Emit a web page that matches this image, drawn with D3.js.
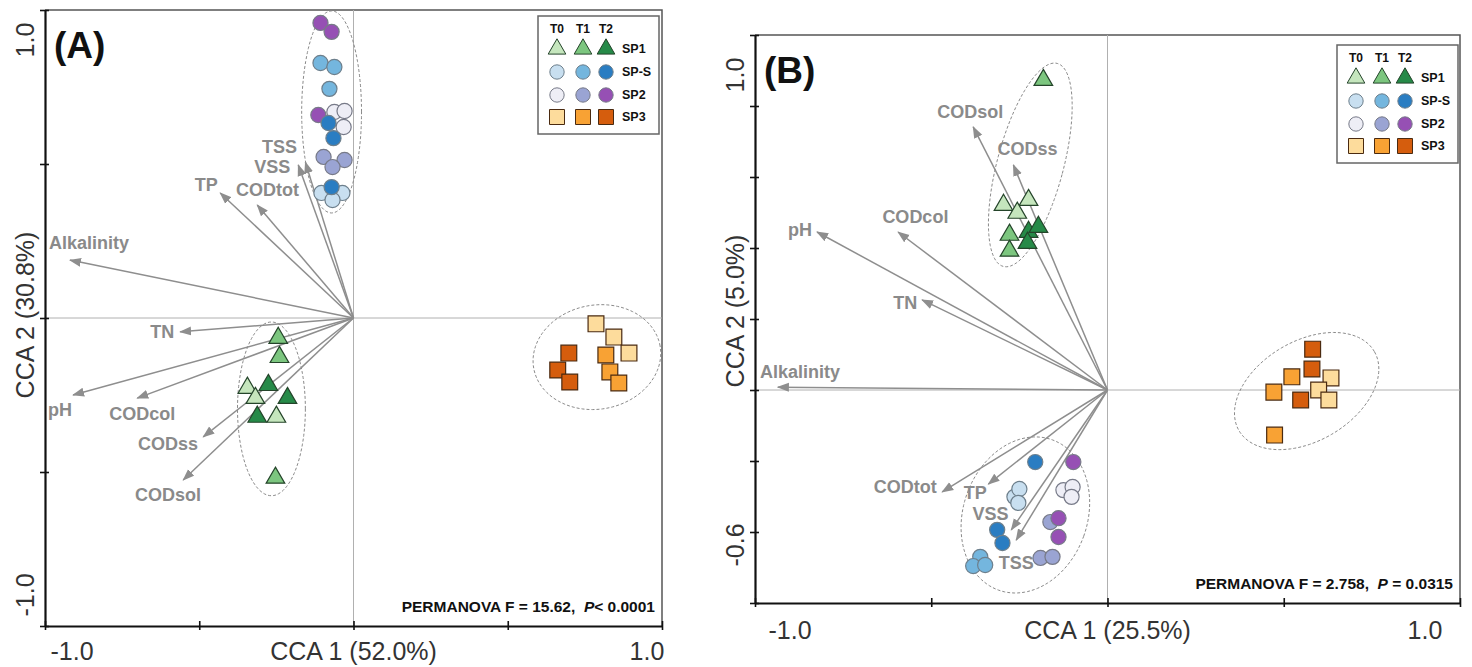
<!DOCTYPE html>
<html>
<head>
<meta charset="utf-8">
<script src="https://cdn.jsdelivr.net/npm/d3@7"></script>
<style>
  body { margin: 0; background: #fff; }
  svg { display: block; font-family: Arial, "Liberation Sans", sans-serif; }
</style>
</head>
<body>
<div id="chart"></div>
<script>
// ---- data ----
const timePoints = ['T0', 'T1', 'T2'];
const groupNames = ['SP1', 'SP-S', 'SP2', 'SP3'];

// Panel A site scores: [time, CCA1, CCA2]
const sp1A = [
  ['T0', -0.344, -0.227], ['T0', -0.318, -0.260], ['T0', -0.250, -0.321],
  ['T1', -0.244, -0.065], ['T1', -0.240, -0.127], ['T1', -0.253, -0.519],
  ['T2', -0.276, -0.218], ['T2', -0.214, -0.260], ['T2', -0.312, -0.321]
];
const spsA = [
  ['T0', -0.104, 0.406], ['T0', -0.036, 0.406], ['T0', -0.068, 0.383],
  ['T1', -0.107, 0.828], ['T1', -0.062, 0.815], ['T1', -0.078, 0.744],
  ['T2', -0.081, 0.633], ['T2', -0.065, 0.584], ['T2', -0.071, 0.425]
];
const sp2A = [
  ['T0', -0.062, 0.669], ['T0', -0.029, 0.672], ['T0', -0.032, 0.620],
  ['T1', -0.097, 0.523], ['T1', -0.029, 0.513], ['T1', -0.068, 0.490],
  ['T2', -0.107, 0.958], ['T2', -0.071, 0.929], ['T2', -0.114, 0.659]
];
const sp3A = [
  ['T0', 0.786, -0.019], ['T0', 0.844, -0.062], ['T0', 0.893, -0.114],
  ['T1', 0.818, -0.120], ['T1', 0.831, -0.175], ['T1', 0.860, -0.211],
  ['T2', 0.698, -0.114], ['T2', 0.662, -0.169], ['T2', 0.701, -0.208]
];

// Panel B site scores
const sp1B = [
  ['T0', -0.295, 0.521], ['T0', -0.224, 0.535], ['T0', -0.256, 0.499],
  ['T1', -0.182, 0.873], ['T1', -0.278, 0.437], ['T1', -0.278, 0.392],
  ['T2', -0.224, 0.445], ['T2', -0.196, 0.459], ['T2', -0.227, 0.414]
];
const spsB = [
  ['T0', -0.264, -0.301], ['T0', -0.250, -0.279], ['T0', -0.253, -0.318],
  ['T1', -0.361, -0.470], ['T1', -0.381, -0.496], ['T1', -0.347, -0.493],
  ['T2', -0.205, -0.203], ['T2', -0.313, -0.394], ['T2', -0.298, -0.431]
];
const sp2B = [
  ['T0', -0.125, -0.282], ['T0', -0.099, -0.273], ['T0', -0.102, -0.301],
  ['T1', -0.162, -0.372], ['T1', -0.190, -0.473], ['T1', -0.156, -0.470],
  ['T2', -0.097, -0.203], ['T2', -0.139, -0.361], ['T2', -0.139, -0.414]
];
const sp3B = [
  ['T0', 0.634, 0.034], ['T0', 0.599, 0.000], ['T0', 0.628, -0.028],
  ['T1', 0.523, 0.037], ['T1', 0.472, -0.006], ['T1', 0.474, -0.127],
  ['T2', 0.582, 0.115], ['T2', 0.580, 0.059], ['T2', 0.548, -0.028]
];

// Environmental vectors: [name, tipX, tipY, labelX, labelY]
const envA = [
  ['TSS', -0.156, 0.506, -0.240, 0.555],
  ['VSS', -0.179, 0.497, -0.263, 0.490],
  ['TP', -0.432, 0.406, -0.477, 0.432],
  ['CODtot', -0.312, 0.367, -0.279, 0.416],
  ['Alkalinity', -0.919, 0.188, -0.857, 0.244],
  ['TN', -0.562, -0.045, -0.620, -0.045],
  ['pH', -0.909, -0.250, -0.951, -0.299],
  ['CODcol', -0.701, -0.260, -0.685, -0.312],
  ['CODss', -0.487, -0.386, -0.601, -0.409],
  ['CODsol', -0.552, -0.526, -0.601, -0.575]
];
const envB = [
  ['CODsol', -0.381, 0.741, -0.389, 0.783],
  ['CODss', -0.267, 0.634, -0.227, 0.679],
  ['CODcol', -0.594, 0.445, -0.545, 0.487],
  ['pH', -0.824, 0.445, -0.872, 0.451],
  ['TN', -0.526, 0.254, -0.574, 0.245],
  ['Alkalinity', -0.935, 0.008, -0.872, 0.051],
  ['CODtot', -0.469, -0.287, -0.574, -0.273],
  ['TP', -0.338, -0.265, -0.375, -0.290],
  ['VSS', -0.273, -0.394, -0.332, -0.349],
  ['TSS', -0.259, -0.423, -0.259, -0.487]
];

// Group ellipses: [cx, cy, rx, ry, angleDeg]
const ellipsesA = [
  [-0.071, 0.669, 0.097, 0.328, 0],
  [-0.266, -0.295, 0.110, 0.282, 0],
  [0.789, -0.127, 0.208, 0.169, 10]
];
const ellipsesB = [
  [-0.219, 0.634, 0.094, 0.296, -15],
  [-0.233, -0.352, 0.176, 0.225, -20],
  [0.565, -0.003, 0.222, 0.141, 30]
];

const xTicks = [-1, -0.5, 0, 0.5, 1];
const yTicksA = [-1, -0.5, 0, 0.5, 1];
const yTicksB = [-0.6, -0.4, -0.2, 0, 0.2, 0.4, 0.6, 0.8, 1.0];
const xEndLabels = ['-1.0', '1.0'];
const yEndLabelsA = ['-1.0', '1.0'];
const yEndLabelsB = ['-0.6', '1.0'];
const axisTitlesA = ['CCA 1 (52.0%)', 'CCA 2 (30.8%)'];
const axisTitlesB = ['CCA 1 (25.5%)', 'CCA 2 (5.0%)'];
const permanovaA = ['PERMANOVA F = 15.62,  ', 'P', '< 0.0001'];
const permanovaB = ['PERMANOVA F = 2.758,  ', 'P', ' = 0.0315'];

// ---- styles ----
const fills = {
  'SP1': ['#c5e6bd', '#7cc67f', '#268a48'],
  'SP-S': ['#c8dff0', '#74b6de', '#2a7dc2'],
  'SP2': ['#eeeef6', '#9aa4d3', '#9650b4'],
  'SP3': ['#fddc9c', '#f8a234', '#d55d0d']
};
const strokes = { 'SP1': '#24442a', 'SP-S': '#6d7f8c', 'SP2': '#777a88', 'SP3': '#4a2a10' };
const shapes = { 'SP1': d3.symbolTriangle, 'SP-S': d3.symbolCircle, 'SP2': d3.symbolCircle, 'SP3': d3.symbolSquare };
const sizes = { 'SP1': 150, 'SP-S': 180, 'SP2': 180, 'SP3': 250 };
const arrowColor = '#8e8e8e';

var svg = d3.select('#chart')
  .append('svg')
  .attr('width', 1472)
  .attr('height', 667);

svg.append('defs')
  .append('marker')
  .attr('id', 'arrowhead')
  .attr('viewBox', '0 0 12 10')
  .attr('refX', 11)
  .attr('refY', 5)
  .attr('markerWidth', 12)
  .attr('markerHeight', 10)
  .attr('markerUnits', 'userSpaceOnUse')
  .attr('orient', 'auto')
  .append('path')
  .attr('d', 'M0,0.5 L12,5 L0,9.5 z')
  .attr('fill', arrowColor);

function drawPanel(p) {
  var x = d3.scaleLinear().domain([-1, 1]).range([p.left, p.right]);
  var y = d3.scaleLinear().domain(p.yDomain).range([p.bottom, p.top]);
  var g = svg.append('g');

  // frame (top / right)
  g.append('path')
    .attr('d', 'M' + p.left + ',' + p.top + 'H' + p.right + 'V' + p.bottom)
    .attr('fill', 'none')
    .attr('stroke', '#555')
    .attr('stroke-width', 1.5);

  // zero lines
  g.append('line')
    .attr('x1', p.left).attr('x2', p.right)
    .attr('y1', y(0)).attr('y2', y(0))
    .attr('stroke', '#b0b0b0').attr('stroke-width', 1);
  g.append('line')
    .attr('x1', x(0)).attr('x2', x(0))
    .attr('y1', p.top).attr('y2', p.bottom)
    .attr('stroke', '#b0b0b0').attr('stroke-width', 1);

  // axes
  var ax = g.append('g')
    .attr('transform', 'translate(0,' + p.bottom + ')')
    .call(d3.axisBottom(x).tickValues(xTicks).tickSizeOuter(0).tickFormat(''));
  ax.selectAll('.tick line').attr('y1', -5).attr('y2', 4);
  var ay = g.append('g')
    .attr('transform', 'translate(' + p.left + ',0)')
    .call(d3.axisLeft(y).tickValues(p.yTicks).tickSizeOuter(0).tickFormat(''));
  ay.selectAll('.tick line').attr('x1', 4).attr('x2', -5);
  g.selectAll('.domain').attr('stroke', '#111').attr('stroke-width', 2.2);
  g.selectAll('.tick line').attr('stroke', '#111').attr('stroke-width', 1.6);

  // axis labels
  var labelStyle = function (t) {
    t.attr('font-size', '25px').attr('fill', '#333').attr('text-anchor', 'middle')
      .attr('dominant-baseline', 'central');
  };
  g.append('text').text(xEndLabels[0])
    .attr('x', x(-1) + p.xLabelInset[0]).attr('y', p.bottom + p.xLabelGap).call(labelStyle);
  g.append('text').text(xEndLabels[1])
    .attr('x', x(1) - p.xLabelInset[1]).attr('y', p.bottom + p.xLabelGap).call(labelStyle);
  g.append('text').text(p.titles[0])
    .attr('x', x(0)).attr('y', p.bottom + p.xLabelGap).call(labelStyle);

  var yl = p.left - p.yLabelGap;
  g.append('text').text(p.yEnd[0]).call(labelStyle)
    .attr('transform', 'translate(' + yl + ',' + (y(p.yDomain[0]) - p.yLabelInset[0]) + ') rotate(-90)');
  g.append('text').text(p.yEnd[1]).call(labelStyle)
    .attr('transform', 'translate(' + yl + ',' + (y(p.yDomain[1]) + p.yLabelInset[1]) + ') rotate(-90)');
  g.append('text').text(p.titles[1]).call(labelStyle)
    .attr('transform', 'translate(' + yl + ',' + p.yTitleAt + ') rotate(-90)');

  // panel tag
  g.append('text').text(p.tag)
    .attr('x', p.left + 9).attr('y', p.top + 48)
    .attr('font-size', '37px').attr('font-weight', 'bold').attr('fill', '#111');

  // ellipses
  var ellipseLine = d3.line()
    .x(function (d) { return x(d[0]); })
    .y(function (d) { return y(d[1]); })
    .curve(d3.curveLinearClosed);
  g.selectAll('path.ell')
    .data(p.ellipses)
    .enter()
    .append('path')
    .attr('class', 'ell')
    .attr('d', function (e) {
      var a = e[4] * Math.PI / 180;
      var pts = d3.range(0, 360, 3).map(function (deg) {
        var t = deg * Math.PI / 180;
        return [e[0] + e[2] * Math.cos(t) * Math.cos(a) - e[3] * Math.sin(t) * Math.sin(a),
                e[1] + e[2] * Math.cos(t) * Math.sin(a) + e[3] * Math.sin(t) * Math.cos(a)];
      });
      return ellipseLine(pts);
    })
    .attr('fill', 'none')
    .attr('stroke', '#8a8a8a')
    .attr('stroke-width', 1)
    .attr('stroke-dasharray', '3,2');

  // env arrows
  g.selectAll('line.env')
    .data(p.env)
    .enter()
    .append('line')
    .attr('class', 'env')
    .attr('x1', x(0)).attr('y1', y(0))
    .attr('x2', function (d) { return x(d[1]); })
    .attr('y2', function (d) { return y(d[2]); })
    .attr('stroke', arrowColor)
    .attr('stroke-width', 1.5)
    .attr('marker-end', 'url(#arrowhead)');
  g.selectAll('text.env')
    .data(p.env)
    .enter()
    .append('text')
    .attr('class', 'env')
    .text(function (d) { return d[0]; })
    .attr('x', function (d) { return x(d[3]); })
    .attr('y', function (d) { return y(d[4]); })
    .attr('text-anchor', 'middle')
    .attr('dominant-baseline', 'central')
    .attr('font-size', '18px')
    .attr('font-weight', 'bold')
    .attr('fill', '#8a8a8a');

  // site points
  p.sites.forEach(function (s) {
    var grp = s[0];
    g.append('g')
      .selectAll('path')
      .data(s[1])
      .enter()
      .append('path')
      .attr('d', d3.symbol().type(shapes[grp]).size(sizes[grp]))
      .attr('transform', function (d) { return 'translate(' + x(d[1]) + ',' + y(d[2]) + ')'; })
      .attr('fill', function (d) { return fills[grp][timePoints.indexOf(d[0])]; })
      .attr('stroke', strokes[grp])
      .attr('stroke-width', 1.2);
  });

  // legend
  var lg = g.append('g').attr('transform', 'translate(' + p.legend[0] + ',' + p.legend[1] + ')');
  lg.append('rect')
    .attr('width', 121).attr('height', 118)
    .attr('fill', '#fff').attr('stroke', '#666').attr('stroke-width', 1.5);
  var cols = [19, 45, 68];
  var rows = [33, 56, 79, 101];
  lg.selectAll('text.hd')
    .data(timePoints)
    .enter()
    .append('text')
    .text(function (d) { return d; })
    .attr('x', function (d, i) { return cols[i]; })
    .attr('y', 13)
    .attr('text-anchor', 'middle').attr('dominant-baseline', 'central')
    .attr('font-size', '12px').attr('font-weight', 'bold').attr('fill', '#111');
  groupNames.forEach(function (grp, r) {
    timePoints.forEach(function (t, i) {
      lg.append('path')
        .attr('d', d3.symbol().type(shapes[grp]).size(sizes[grp] * 0.9))
        .attr('transform', 'translate(' + cols[i] + ',' + rows[r] + ')')
        .attr('fill', fills[grp][i])
        .attr('stroke', strokes[grp])
        .attr('stroke-width', 1);
    });
    lg.append('text').text(grp)
      .attr('x', 84).attr('y', rows[r])
      .attr('dominant-baseline', 'central')
      .attr('font-size', '12.5px').attr('font-weight', 'bold').attr('fill', '#111');
  });

  // permanova
  var pt = g.append('text')
    .attr('x', p.right - 7).attr('y', p.bottom - 14)
    .attr('text-anchor', 'end')
    .attr('font-size', '15.5px').attr('font-weight', 'bold').attr('fill', '#111');
  pt.append('tspan').text(p.permanova[0]).attr('xml:space', 'preserve');
  pt.append('tspan').text(p.permanova[1]).attr('font-style', 'italic');
  pt.append('tspan').text(p.permanova[2]);
}

drawPanel({
  left: 45, right: 662, top: 10, bottom: 626,
  yDomain: [-1, 1], yTicks: yTicksA,
  xLabelInset: [27, 15], xLabelGap: 25,
  yEnd: yEndLabelsA, yLabelInset: [31, 30], yLabelGap: 20, yTitleAt: 315,
  titles: axisTitlesA, tag: '(A)',
  ellipses: ellipsesA, env: envA,
  sites: [['SP3', sp3A], ['SP1', sp1A], ['SP2', sp2A], ['SP-S', spsA]],
  legend: [538, 16], permanova: permanovaA
});

drawPanel({
  left: 755, right: 1460, top: 35, bottom: 603,
  yDomain: [-0.6, 1.0], yTicks: yTicksB,
  xLabelInset: [35, 35], xLabelGap: 27,
  yEnd: yEndLabelsB, yLabelInset: [58, 40], yLabelGap: 20, yTitleAt: 311,
  titles: axisTitlesB, tag: '(B)',
  ellipses: ellipsesB, env: envB,
  sites: [['SP3', sp3B], ['SP1', sp1B], ['SP2', sp2B], ['SP-S', spsB]],
  legend: [1337, 45], permanova: permanovaB
});
</script>
</body>
</html>
